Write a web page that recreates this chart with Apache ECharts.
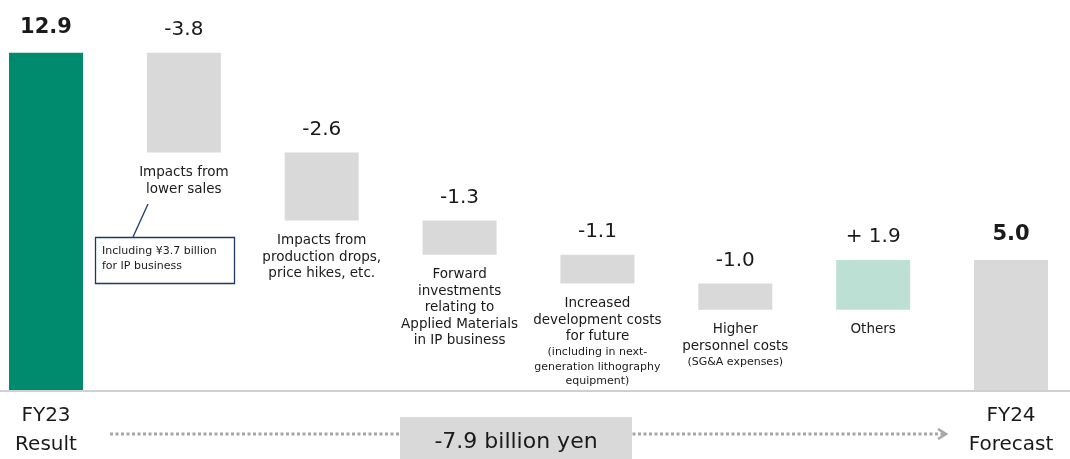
<!DOCTYPE html>
<html>
<head>
<meta charset="utf-8">
<script src="https://cdn.jsdelivr.net/npm/echarts@6/dist/echarts.min.js"></script>
<style>
  html, body { margin: 0; padding: 0; background: #fff; }
  #chart { width: 1070px; height: 459px; }
</style>
</head>
<body>
<div id="chart"></div>
<script>
// values in billion yen
const categories = ['FY23\nResult', 'Lower sales', 'Production drops', 'Applied Materials',
  'Development costs', 'Personnel costs', 'Others', 'FY24\nForecast']
const startValue = 12.9
const deltas = [-3.8, -2.6, -1.3, -1.1, -1.0, 1.9]
const endValue = 5.0
const valueLabels = ['12.9', '-3.8', '-2.6', '-1.3', '-1.1', '-1.0', '+ 1.9', '5.0']
const descriptions = [
  '',
  '{m|Impacts from}\n{m|lower sales}',
  '{m|Impacts from}\n{m|production drops,}\n{m|price hikes, etc.}',
  '{m|Forward}\n{m|investments}\n{m|relating to}\n{m|Applied Materials}\n{m|in IP business}',
  '{m|Increased}\n{m|development costs}\n{m|for future}\n{s|(including in next-}\n{s|generation lithography}\n{s|equipment)}',
  '{m|Higher}\n{m|personnel costs}\n{s|(SG&A expenses)}',
  '{m|Others}',
  ''
]
const totalChange = '-7.9 billion yen'

const FONT = '"DejaVu Sans", Verdana, sans-serif'

// waterfall: invisible base + visible step
const base = []
const step = []
let level = startValue
base.push(0)
step.push(startValue)
deltas.forEach(d => {
  const next = +(level + d).toFixed(2)
  base.push(Math.min(level, next))
  step.push(Math.abs(d))
  level = next
})
base.push(0)
step.push(endValue)

const colors = categories.map((c, i) => {
  if (i === 0) return '#008A6E'
  if (i < categories.length - 1 && deltas[i - 1] > 0) return '#BDE0D5'
  return '#D9D9D9'
})

const chart = echarts.init(document.getElementById('chart'))
chart.setOption({
  animation: false,
  grid: { left: 46, right: 59, top: 24, bottom: 66 },
  xAxis: {
    type: 'category',
    data: categories,
    boundaryGap: false,
    axisTick: { show: false },
    axisLine: { show: false },
    axisLabel: {
      interval: 0,
      margin: 10,
      fontFamily: FONT,
      fontSize: 20,
      lineHeight: 29,
      color: '#1a1a1a',
      formatter: (v, i) => (i === 0 || i === categories.length - 1) ? v : ''
    }
  },
  yAxis: {
    type: 'value',
    min: 0,
    max: 14,
    show: false,
    splitLine: { show: false }
  },
  series: [
    {
      type: 'bar',
      stack: 'w',
      barWidth: 74,
      clip: false,
      data: base,
      itemStyle: { color: 'transparent' },
      label: {
        show: true,
        position: 'insideTop',
        distance: 12,
        color: '#1a1a1a',
        fontFamily: FONT,
        formatter: p => descriptions[p.dataIndex],
        rich: {
          m: { fontSize: 13.5, lineHeight: 16.5, fontFamily: FONT, color: '#1a1a1a', align: 'center' },
          s: { fontSize: 11, lineHeight: 14.5, fontFamily: FONT, color: '#1a1a1a', align: 'center' }
        }
      },
      silent: true
    },
    {
      type: 'bar',
      stack: 'w',
      barWidth: 74,
      clip: false,
      data: step.map((v, i) => ({
        value: v,
        itemStyle: { color: colors[i] },
        label: (i === 0 || i === step.length - 1) ? { fontWeight: 'bold', fontSize: 21, distance: 15 } : {}
      })),
      label: {
        show: true,
        position: 'top',
        distance: 13,
        fontFamily: FONT,
        fontSize: 20,
        color: '#1a1a1a',
        formatter: p => valueLabels[p.dataIndex]
      },
      emphasis: { disabled: true }
    }
  ]
})

// baseline across the full width, plus annotations
const baseY = chart.convertToPixel({ yAxisIndex: 0 }, 0)
chart.setOption({
  graphic: [
    { type: 'line', z: 10, shape: { x1: 0, y1: baseY, x2: 1070, y2: baseY }, style: { stroke: '#D0D0D0', lineWidth: 2 } },
    // callout for first drop
    { type: 'line', shape: { x1: 148, y1: 204, x2: 133, y2: 237 }, style: { stroke: '#203864', lineWidth: 1.3 } },
    { type: 'rect', shape: { x: 95.5, y: 237.5, width: 139, height: 46 }, style: { fill: '#fff', stroke: '#203864', lineWidth: 1.3 } },
    { type: 'text', x: 102, y: 244, style: { text: 'Including ¥3.7 billion\nfor IP business', font: '11px ' + FONT, lineHeight: 15, fill: '#1a1a1a' } },
    // bottom arrow and total box
    { type: 'line', shape: { x1: 110, y1: 434, x2: 945, y2: 434 }, style: { stroke: '#A6A6A6', lineWidth: 3, lineDash: [3, 2.5] } },
    { type: 'polyline', shape: { points: [[938, 429], [946, 434], [938, 439]] }, style: { stroke: '#A6A6A6', lineWidth: 2.5, fill: null } },
    { type: 'rect', shape: { x: 400, y: 417, width: 232, height: 50 }, style: { fill: '#D9D9D9' } },
    { type: 'text', x: 516, y: 442, style: { text: totalChange, font: '22px ' + FONT, fill: '#1a1a1a', align: 'center', verticalAlign: 'middle' } }
  ]
})
</script>
</body>
</html>
